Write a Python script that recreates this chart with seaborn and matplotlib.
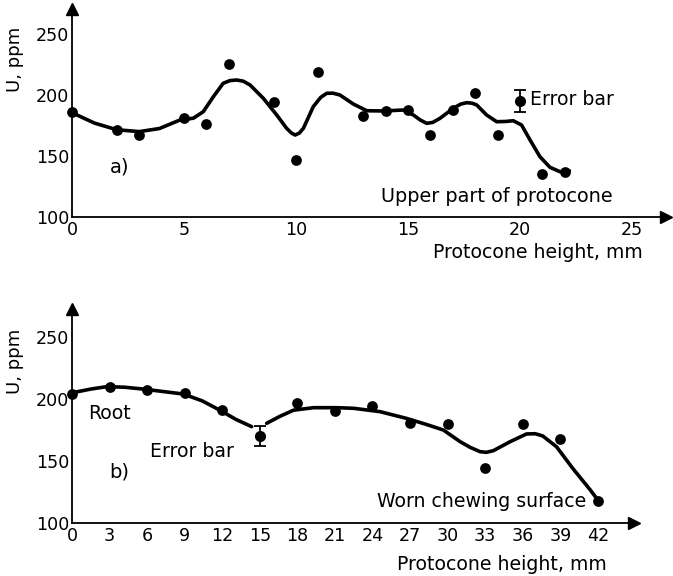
import matplotlib
matplotlib.use("Agg")
import matplotlib.pyplot as plt
import seaborn as sns

# ---------------- data ----------------
# Panel a: measured points
a_x = [0, 2, 3, 5, 6, 7, 9, 10, 11, 13, 14, 15, 16, 17, 18, 19, 21, 22]
a_y = [186, 171, 167, 181, 176, 225, 194, 147, 219, 183, 187, 188, 167, 188, 202, 167, 135, 137]
# Panel a: smoothed curve
a_curve_x = [0, 1, 2, 3, 3.9, 4.82, 5.42, 5.86, 6.31, 6.75, 7.05, 7.35, 7.65, 7.95, 8.54,
             9.14, 9.58, 9.8, 9.96, 10.15, 10.33, 10.77, 11.1, 11.37, 11.65, 11.96, 12.56,
             13.16, 13.9, 14.79, 15.24, 15.55, 15.83, 16.1, 16.43, 17.02, 17.35, 17.62,
             17.85, 18.07, 18.51, 18.96, 19.35, 19.7, 20.07, 20.45, 20.89, 21.34, 21.79, 22.2]
a_curve_y = [185.5, 177, 171.5, 170, 172.5, 179.5, 181, 186.3, 198.6, 209.6, 211.8, 212.3,
             211.3, 208.2, 197.3, 183.6, 172.7, 168.8, 167.2, 168.8, 172.7, 190.4, 198,
             201.4, 201.5, 200, 192.6, 187.1, 186.9, 187.7, 183.6, 179.5, 176.8, 177.5,
             180.9, 189.1, 192.5, 193.7, 193.3, 191.8, 183.6, 178.1, 178.3, 178.9, 175.4,
             163.1, 149.4, 140.7, 137.1, 138]
a_err_x = [20]
a_err_y = [195]
a_err = [9]
a_xticks = [0, 5, 10, 15, 20, 25]
yticks = [100, 150, 200, 250]

# Panel b: measured points
b_x = [0, 3, 6, 9, 12, 18, 21, 24, 27, 30, 33, 36, 39, 42]
b_y = [204, 210, 207, 205, 191, 197, 190, 194, 181, 180, 144, 180, 168, 118]
# Panel b: smoothed curve, two pieces (gap at the error bar)
b_curve1_x = [0, 1.5, 2.8, 4.2, 5.7, 7.3, 8.9, 10.4, 11.8, 13.1, 14.35]
b_curve1_y = [205, 208, 210, 209.5, 208, 206, 204, 198.5, 191, 183.5, 177.7]
b_curve2_x = [15.55, 16.6, 17.7, 19.3, 21.1, 22.5, 24.6, 26.7, 28.3, 29.66, 31.0, 31.8,
              32.6, 33.1, 33.65, 35.0, 36.3, 37.0, 37.6, 38.7, 40.0, 41.4, 42.0]
b_curve2_y = [180.4, 186, 191, 193, 193, 192.5, 189.8, 184.4, 179.5, 175, 165.6, 161,
              157.5, 157, 158.3, 165.6, 171.8, 172, 170.2, 161.5, 144, 126.6, 118.5]
b_err_x = [15]
b_err_y = [170]
b_err = [8]
b_xticks = [0, 3, 6, 9, 12, 15, 18, 21, 24, 27, 30, 33, 36, 39, 42]

# ---------------- style ----------------
sns.set_style("white")
plt.rcParams['font.family'] = ['DejaVu Sans']
plt.rcParams['text.color'] = 'black'
plt.rcParams['axes.labelcolor'] = 'black'
plt.rcParams['xtick.color'] = 'black'
plt.rcParams['ytick.color'] = 'black'
TFS = 12.6   # tick labels
LFS = 13.6   # annotations

W, H = 673, 576
fig = plt.figure(figsize=(W / 100, H / 100), dpi=100)


def px_axes(left, top, right, bottom):
    return fig.add_axes([left / W, 1 - bottom / H, (right - left) / W, (bottom - top) / H])


def style_axes(ax, xticks, short_ticks=()):
    for s in ["top", "right"]:
        ax.spines[s].set_visible(False)
    for s in ["left", "bottom"]:
        ax.spines[s].set_linewidth(1.3)
        ax.spines[s].set_color("black")
    ax.set_xticks(xticks)
    ax.set_xticklabels([str(t) for t in xticks])
    ax.set_yticks(yticks)
    ax.set_yticklabels([str(t) for t in yticks])
    ax.tick_params(axis="both", direction="in", length=9, width=1.2, color="black",
                   labelsize=TFS, labelcolor="black")
    ax.tick_params(axis="x", pad=3)
    ax.tick_params(axis="y", pad=2)
    for i, t in enumerate(ax.xaxis.get_major_ticks()):
        if xticks[i] in short_ticks:
            t.tick1line.set_markersize(3)
    # arrows at axis ends
    ax.plot(1, 0, ">", color="black", ms=8, transform=ax.transAxes, clip_on=False)
    ax.plot(0, 1, "^", color="black", ms=8, transform=ax.transAxes, clip_on=False)
    ax.set_xlabel("")
    ax.set_ylabel("")


LINE = dict(color="black", lw=2.6, solid_joinstyle="round", solid_capstyle="round")

# ---------------- panel a ----------------
ax_a = px_axes(72, 9, 666, 217)
ax_a.set_xlim(0, (666 - 72) / 22.4)
ax_a.set_ylim(100, 100 + (217 - 9) / 1.22)
sns.lineplot(x=a_curve_x, y=a_curve_y, sort=False, ax=ax_a, **LINE)
sns.scatterplot(x=a_x, y=a_y, color="black", s=60, edgecolor=None, linewidth=0, ax=ax_a,
                clip_on=False)
ax_a.errorbar(a_err_x, a_err_y, yerr=a_err, fmt="o", color="black", ms=7, capsize=4,
              elinewidth=1.3, capthick=1.3)
style_axes(ax_a, a_xticks, short_ticks=(15, 20))
ax_a.text(1.7, 141, "a)", fontsize=LFS + 0.5, va="center", ha="left")
ax_a.text(13.8, 116.5, "Upper part of protocone", fontsize=LFS + 0.3, va="center", ha="left")
ax_a.text(20.45, 196, "Error bar", fontsize=LFS, va="center", ha="left")
fig.text(643 / W, 1 - 252 / H, "Protocone height, mm", fontsize=LFS, ha="right", va="center")
fig.text(15 / W, 1 - 59 / H, "U, ppm", fontsize=13, rotation=90, ha="center", va="center")

# ---------------- panel b ----------------
ax_b = px_axes(72, 309, 634, 523)
ax_b.set_xlim(0, (634 - 72) / 12.52)
ax_b.set_ylim(100, 100 + (523 - 309) / 1.24)
sns.lineplot(x=b_curve1_x, y=b_curve1_y, sort=False, ax=ax_b, **LINE)
sns.lineplot(x=b_curve2_x, y=b_curve2_y, sort=False, ax=ax_b, **LINE)
sns.scatterplot(x=b_x, y=b_y, color="black", s=60, edgecolor=None, linewidth=0, ax=ax_b,
                clip_on=False)
ax_b.errorbar(b_err_x, b_err_y, yerr=b_err, fmt="o", color="black", ms=7, capsize=4,
              elinewidth=1.3, capthick=1.3)
style_axes(ax_b, b_xticks)
ax_b.text(1.3, 188.7, "Root", fontsize=LFS, va="center", ha="left")
ax_b.text(6.2, 158, "Error bar", fontsize=LFS, va="center", ha="left")
ax_b.text(3.0, 141, "b)", fontsize=LFS + 0.5, va="center", ha="left")
ax_b.text(24.4, 117.7, "Worn chewing surface", fontsize=LFS, va="center", ha="left")
fig.text(607 / W, 1 - 565 / H, "Protocone height, mm", fontsize=LFS, ha="right", va="center")
fig.text(15 / W, 1 - 361 / H, "U, ppm", fontsize=13, rotation=90, ha="center", va="center")

fig.savefig("out.png", dpi=100)
